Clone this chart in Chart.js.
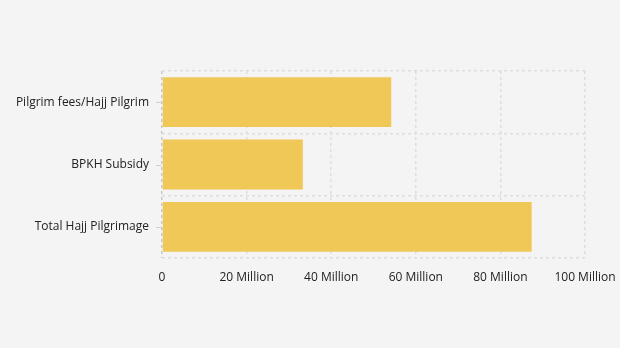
<!DOCTYPE html>
<html>
<head>
<meta charset="utf-8">
<script src="https://cdn.jsdelivr.net/npm/chart.js@4"></script>
<style>
  html, body { margin: 0; padding: 0; background: #f4f4f4; }
  #wrap { width: 620px; height: 348px; }
</style>
</head>
<body>
<div id="wrap"><canvas id="myChart" width="620" height="348"></canvas></div>
<script>
const categorias = ['Pilgrim fees/Hajj Pilgrim', 'BPKH Subsidy', 'Total Hajj Pilgrimage'];
const valores = [54.2e6, 33.3e6, 87.4e6];
const ticksX = [0, 20e6, 40e6, 60e6, 80e6, 100e6];

// marca curta no centro de cada categoria (grid fica nas bordas)
const yTickMarks = {
  id: 'yTickMarks',
  afterDraw(chart) {
    const y = chart.scales.y;
    const ctx = chart.ctx;
    const left = chart.chartArea.left;
    ctx.save();
    ctx.strokeStyle = '#cfcfcf';
    ctx.lineWidth = 1;
    y.ticks.forEach((t, i) => {
      const py = Math.round(y.getPixelForTick(i)) + 0.5;
      ctx.beginPath();
      ctx.moveTo(left - 6, py);
      ctx.lineTo(left - 1, py);
      ctx.stroke();
    });
    ctx.restore();
  }
};

const ctx = document.getElementById('myChart').getContext('2d');
Chart.defaults.font.family = '"Open Sans", "Noto Sans", sans-serif';
Chart.defaults.font.size = 12;
Chart.defaults.color = '#222';

new Chart(ctx, {
  type: 'bar',
  data: {
    labels: categorias,
    datasets: [{
      data: valores,
      backgroundColor: 'rgba(239,198,82,0.97)',
      borderWidth: 0,
      barPercentage: 0.8,
      categoryPercentage: 1.0
    }]
  },
  options: {
    indexAxis: 'y',
    responsive: false,
    animation: false,
    layout: { padding: { left: 0, top: 71, right: 35, bottom: 60 } },
    plugins: { legend: { display: false }, tooltip: { enabled: false } },
    scales: {
      x: {
        min: 0,
        max: 100e6,
        afterBuildTicks: s => { s.ticks = ticksX.map(v => ({ value: v })); },
        afterFit: s => { s.height = 30; s.paddingLeft = 0; s.paddingRight = 0; },
        ticks: {
          padding: 12,
          color: '#222',
          callback: v => v === 0 ? '0' : (v / 1e6) + ' Million'
        },
        grid: {
          drawTicks: false,
          lineWidth: 1.5,
          color: c => c.index === 0 ? '#c8c8c8' : '#dedede'
        },
        border: { display: false, dash: [3, 3] }
      },
      y: {
        afterFit: s => { s.width = 162; },
        ticks: { padding: 13, color: '#222' },
        grid: {
          offset: true,
          drawTicks: false,
          lineWidth: 1.5,
          color: '#dedede'
        },
        border: { display: false, dash: [3, 3] }
      }
    }
  },
  plugins: [yTickMarks]
});
</script>
</body>
</html>
